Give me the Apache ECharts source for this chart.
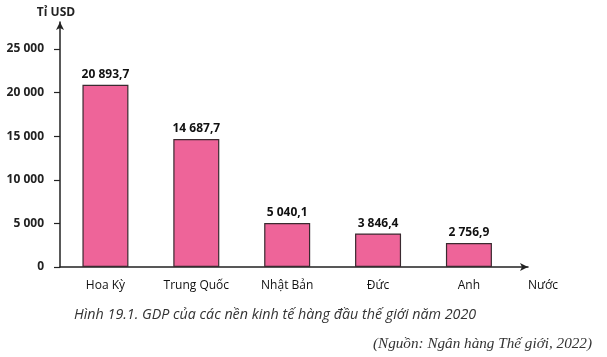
<!DOCTYPE html>
<html><head><meta charset="utf-8">
<script src="https://cdn.jsdelivr.net/npm/echarts@6/dist/echarts.min.js"></script>
<style>html,body{margin:0;padding:0;background:#fff}#c{width:607px;height:357px}</style>
</head><body><div id="c"></div>
<script>
const categories = ['Hoa Kỳ', 'Trung Quốc', 'Nhật Bản', 'Đức', 'Anh'];
const gdpValues = [20893.7, 14687.7, 5040.1, 3846.4, 2756.9];
const yTicks = [0, 5000, 10000, 15000, 20000, 25000];
const captionText = 'Hình 19.1. GDP của các nền kinh tế hàng đầu thế giới năm 2020';
const sourceText = '(Nguồn: Ngân hàng Thế giới, 2022)';

function fmt(v, dec) {
  let s = dec ? v.toFixed(1) : String(Math.round(v));
  let parts = s.split('.');
  let intp = parts[0].replace(/\B(?=(\d{3})+(?!\d))/g, ' ');
  return parts.length > 1 ? intp + ',' + parts[1] : intp;
}

const font = '"Open Sans", sans-serif';
const chart = echarts.init(document.getElementById('c'), null, {renderer: 'canvas'});
chart.setOption({
  animation: false,
  title: [
    {text: captionText, left: 69, top: 303,
     textStyle: {fontFamily: font, fontStyle: 'italic', fontWeight: 'normal', fontSize: 14.3, color: '#333'}},
    {text: sourceText, right: 10, top: 332,
     textStyle: {fontFamily: '"Liberation Serif", serif', fontStyle: 'italic', fontWeight: 'normal', fontSize: 15.2, color: '#333'}}
  ],
  grid: {left: 60, right: 79, top: 22, bottom: 90, containLabel: false},
  xAxis: {
    type: 'value', min: -0.5, max: 4.65,
    splitLine: {show: false},
    axisLine: {show: true, onZero: true, lineStyle: {color: '#222', width: 1.5}, symbol: ['none', 'arrow'], symbolSize: [6, 8]},
    axisTick: {show: false},
    axisLabel: {customValues: [0, 1, 2, 3, 4], formatter: v => categories[Math.round(v)] || '',
      margin: 13, fontFamily: font, fontSize: 12, color: '#111'},
    name: 'Nước', nameLocation: 'end', nameGap: 0,
    nameTextStyle: {fontFamily: font, fontSize: 12, color: '#111', align: 'left', verticalAlign: 'top', padding: [13, 0, 0, 0]}
  },
  yAxis: {
    type: 'value', min: 0, max: 28100,
    splitLine: {show: false},
    axisLine: {show: true, onZero: false, lineStyle: {color: '#222', width: 1.5}, symbol: ['none', 'arrow'], symbolSize: [6, 8]},
    axisTick: {show: true, customValues: yTicks, length: 6, lineStyle: {color: '#222', width: 1.2}},
    axisLabel: {customValues: yTicks, formatter: v => fmt(v, false), margin: 16,
      fontFamily: font, fontSize: 12, fontWeight: 'bold', color: '#222'},
    name: 'Tỉ USD', nameLocation: 'end', nameGap: 3,
    nameTextStyle: {fontFamily: font, fontSize: 12, fontWeight: 'bold', color: '#222', padding: [0, 0, 0, -8]}
  },
  series: [{
    type: 'bar',
    data: gdpValues.map((v, i) => [i, v]),
    barWidth: 46,
    itemStyle: {color: '#EE6499', borderColor: '#3a2a30', borderWidth: 1.2},
    label: {show: true, position: 'top', distance: 4, formatter: p => fmt(p.value[1], true),
      fontFamily: font, fontSize: 12, fontWeight: 'bold', color: '#111'}
  }]
});
</script></body></html>
